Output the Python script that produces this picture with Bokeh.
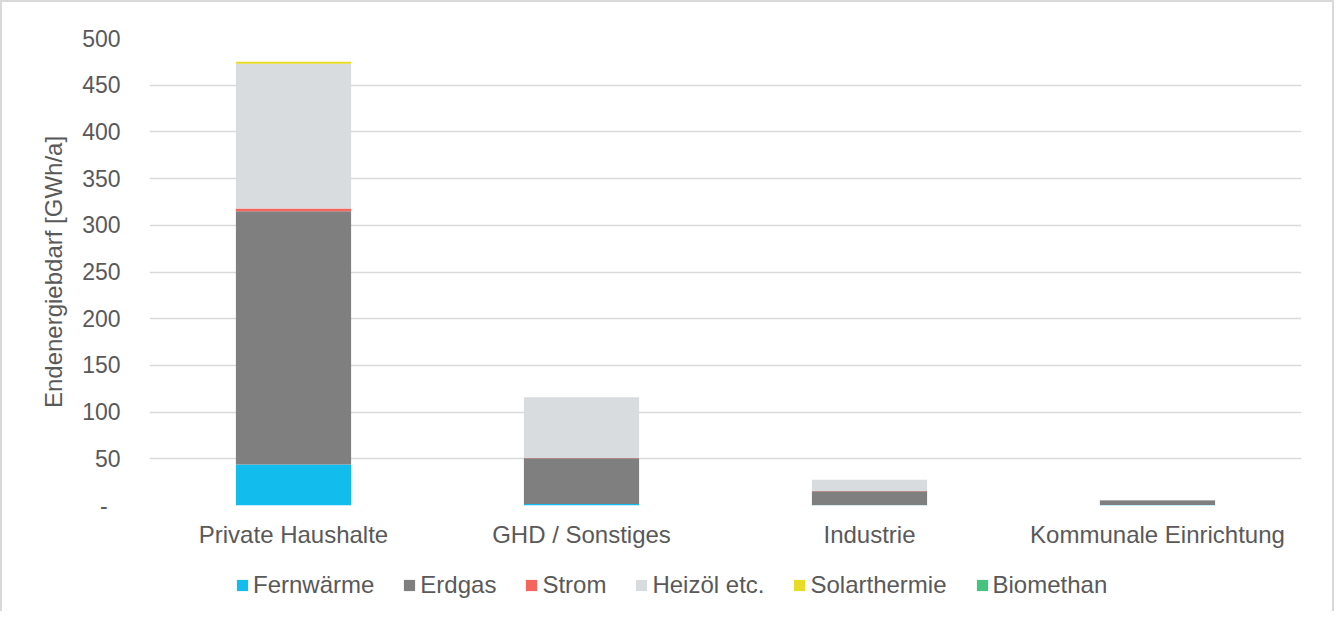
from bokeh.plotting import figure
from bokeh.layouts import column
from bokeh.models import FactorRange, Range1d, Legend, LegendItem, ColumnDataSource, FixedTicker
from bokeh.embed import file_html
from bokeh.resources import INLINE

categories = ["Private Haushalte", "GHD / Sonstiges", "Industrie", "Kommunale Einrichtung"]
series = ["Fernwärme", "Erdgas", "Strom", "Heizöl etc.", "Solarthermie", "Biomethan"]
fernwaerme = [44, 1.5, 0.3, 0.5]
erdgas = [271, 49, 15, 5]
strom = [3, 0.3, 0.2, 0.0]
heizoel = [155, 65, 12, 0.3]
solarthermie = [2, 0.1, 0.0, 0.0]
biomethan = [0.0, 0.0, 0.0, 0.0]
colors = ["#12BCEC", "#7F7F7F", "#F4665D", "#D9DCDF", "#E8DB25", "#45C47F"]
y_ticks = [0, 50, 100, 150, 200, 250, 300, 350, 400, 450, 500]

FONT = "Liberation Sans"
TXT = "#595959"
FS = "24px"

source = ColumnDataSource(dict(
    cat=categories,
    **{"Fernwärme": fernwaerme, "Erdgas": erdgas, "Strom": strom,
       "Heizöl etc.": heizoel, "Solarthermie": solarthermie, "Biomethan": biomethan}))

p = figure(x_range=FactorRange(*categories, range_padding=0), y_range=Range1d(0, 500),
           width=1330, height=560, output_backend="svg", toolbar_location=None,
           min_border_left=147, min_border_right=31, min_border_top=36, min_border_bottom=57)

renderers = p.vbar_stack(series, x="cat", width=0.4, source=source, color=colors, line_color=None)

p.outline_line_color = None
p.xgrid.grid_line_color = None
p.ygrid.grid_line_color = "#D9D9D9"
p.ygrid.grid_line_width = 1.5

p.yaxis.ticker = FixedTicker(ticks=y_ticks)
p.yaxis.major_label_overrides = {0: "-\u00a0\u00a0"}
for ax in (p.xaxis[0], p.yaxis[0]):
    ax.axis_line_color = None
    ax.major_tick_line_color = None
    ax.minor_tick_line_color = None
    ax.major_tick_out = 0
    ax.minor_tick_out = 0
    ax.major_label_text_font = FONT
    ax.major_label_text_font_size = FS
    ax.major_label_text_color = TXT
p.yaxis.major_label_text_font_size = "23px"
p.xaxis.major_label_standoff = 15
p.yaxis.major_label_standoff = 29
p.yaxis.axis_label = "Endenergiebdarf [GWh/a]"
p.yaxis.axis_label_text_font = FONT
p.yaxis.axis_label_text_font_size = FS
p.yaxis.axis_label_text_font_style = "normal"
p.yaxis.axis_label_text_color = TXT
p.yaxis.axis_label_standoff = 12

# legend strip below the chart (frames of the column's figures are aligned)
lg = figure(x_range=Range1d(0, 1), y_range=Range1d(0, 1), width=1330, height=49,
            output_backend="svg", toolbar_location=None,
            min_border_left=0, min_border_right=0, min_border_top=0, min_border_bottom=0)
lg.axis.visible = False
lg.grid.grid_line_color = None
lg.outline_line_color = None
lg_renderers = [lg.vbar(x=[-10], top=[0], bottom=[0], width=0.1, color=c, line_color=None)
                for c in colors]

legend = Legend(items=[LegendItem(label=s, renderers=[r]) for s, r in zip(series, lg_renderers)],
                orientation="horizontal", location=(86, 12))
legend.label_text_font = FONT
legend.label_text_font_size = FS
legend.label_text_color = TXT
legend.glyph_width = 14
legend.glyph_height = 14
legend.label_height = 24
legend.label_standoff = 4
legend.spacing = 28
legend.padding = 0
legend.margin = 0
legend.border_line_color = None
legend.background_fill_alpha = 0
lg.add_layout(legend, "center")

layout = column(p, lg, spacing=0)
layout.styles = {"border-top": "2px solid #D9D9D9", "border-left": "2px solid #D9D9D9",
                 "border-right": "2px solid #D9D9D9"}

open("out.html", "w").write(file_html(layout, INLINE))
